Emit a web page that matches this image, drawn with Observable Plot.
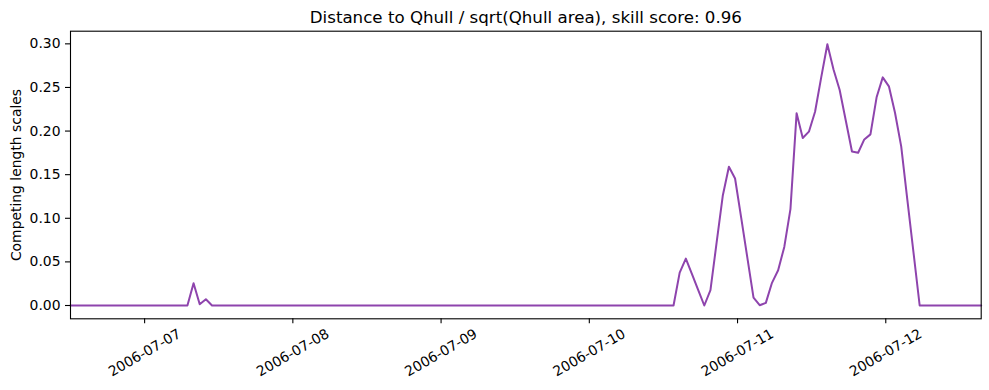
<!DOCTYPE html>
<html>
<head>
<meta charset="utf-8">
<script src="https://cdn.jsdelivr.net/npm/d3@7"></script>
<script src="https://cdn.jsdelivr.net/npm/@observablehq/plot@0.6"></script>
<style>
  html, body { margin: 0; padding: 0; background: #fff; }
</style>
</head>
<body>
<div id="chart"></div>
<script>
// ---- data ----
const titleText = "Distance to Qhull / sqrt(Qhull area), skill score: 0.96";
const yLabel = "Competing length scales";
const startTime = "2006-07-06T12:00:00Z";
const endTime = "2006-07-12T15:27:00Z";
const values = [
  0,0,0,0,0,0,0,0,0,0, 0,0,0,0,0,0,0,0,0,0,
  0.0255,0.0014,0.0071,
  0,0,0,0,0,0,0,0,0,0, 0,0,0,0,0,0,0,0,0,0,
  0,0,0,0,0,0,0,0,0,0, 0,0,0,0,0,0,0,0,0,0,
  0,0,0,0,0,0,0,0,0,0, 0,0,0,0,0,0,0,0,0,0,
  0,0,0,0,0,0,0,0,0,0, 0,0,0,0,0,0,
  0.0377,0.0538,0.036,0.018,0,0.0175,0.072,0.1258,0.159,0.1456,
  0.1004,0.0547,0.009,0.0003,0.003,0.026,0.0404,0.0672,0.1105,0.2203,
  0.192,0.1993,0.2222,0.2616,0.2995,0.2705,0.2471,0.2119,0.1766,0.1751,
  0.1904,0.1962,0.2387,0.2616,0.2513,0.2207,0.1824,0.121,0.0607,
  0,0,0,0,0,0,0,0,0,0,0
];
const xTickLabels = ["2006-07-07","2006-07-08","2006-07-09","2006-07-10","2006-07-11","2006-07-12"];
const yTicks = [0, 0.05, 0.10, 0.15, 0.20, 0.25, 0.30];

// ---- build ----
const t0 = new Date(startTime).getTime();
const t1 = new Date(endTime).getTime();
const step = (t1 - t0) / (values.length - 1);
const data = values.map((v, i) => ({t: new Date(t0 + i * step), v}));
const xTicks = xTickLabels.map(s => new Date(s + "T00:00:00Z"));
const fmt = d3.utcFormat("%Y-%m-%d");

const chart = Plot.plot({
  width: 989,
  height: 390,
  marginLeft: 70,
  marginRight: 8.3,
  marginTop: 30.7,
  marginBottom: 71.7,
  style: {fontFamily: "DejaVu Sans", fontSize: "13.9px", color: "black", background: "white"},
  x: {type: "utc", domain: [new Date(t0), new Date(t1)]},
  y: {domain: [-0.01525, 0.3145]},
  marks: [
    Plot.line(data, {x: "t", y: "v", stroke: "#8e44ad", strokeWidth: 2}),
    Plot.frame({stroke: "black", strokeWidth: 1.1}),
    Plot.axisY({ticks: yTicks, tickFormat: d3.format(".2f"), tickSize: 5, tickPadding: 5, label: null, fontSize: 13.9, strokeWidth: 1.1}),
    Plot.axisX({ticks: xTicks, tickSize: 5, tickFormat: () => "", label: null, strokeWidth: 1.1}),
    Plot.text(xTicks, {x: d => d, text: d => fmt(d), frameAnchor: "bottom", dy: 34, rotate: -30, fontSize: 13.9, textAnchor: "middle", lineAnchor: "middle"}),
    Plot.text([yLabel], {frameAnchor: "left", dx: -54, rotate: -90, fontSize: 13.9, textAnchor: "middle", lineAnchor: "middle"}),
    Plot.text([titleText], {frameAnchor: "top", dy: -14, fontSize: 16.67, textAnchor: "middle", lineAnchor: "middle"})
  ]
});
document.getElementById("chart").appendChild(chart);
</script>
</body>
</html>
